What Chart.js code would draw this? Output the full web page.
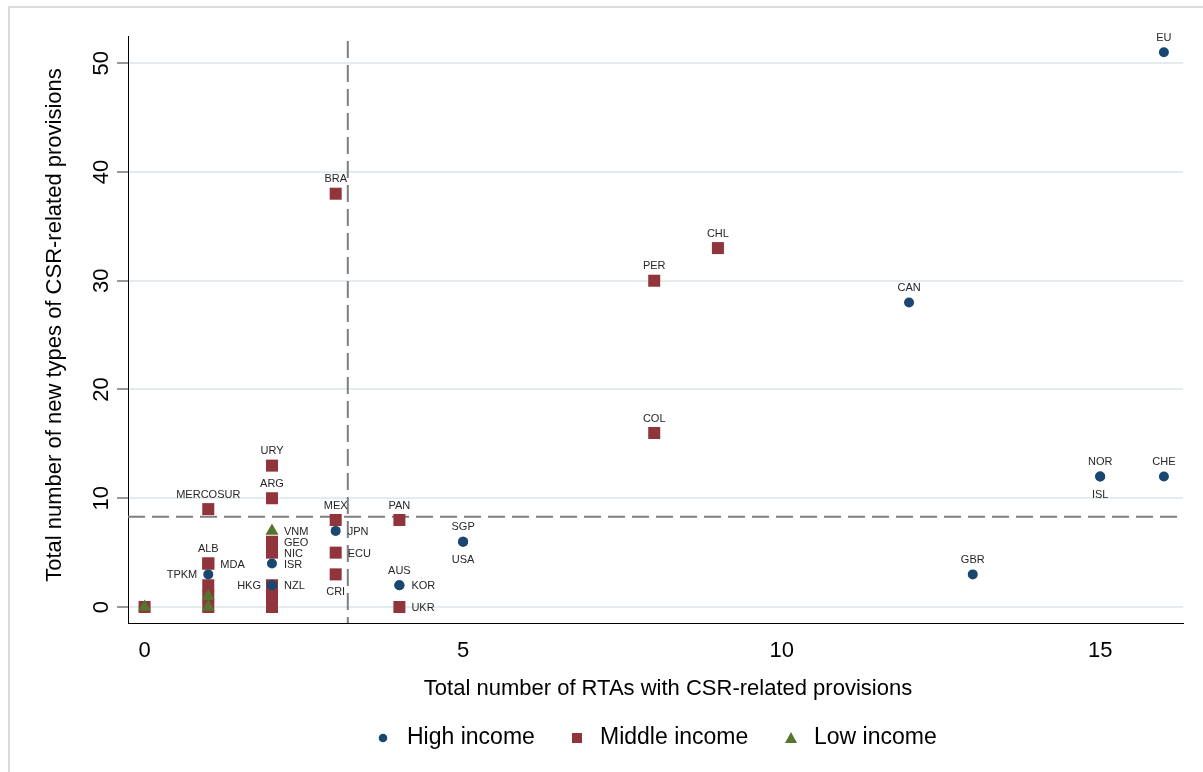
<!DOCTYPE html>
<html>
<head>
<meta charset="utf-8">
<script src="https://cdn.jsdelivr.net/npm/chart.js@4.4.0/dist/chart.umd.min.js"></script>
<style>
  html, body { margin: 0; padding: 0; background: #fff; }
</style>
</head>
<body>
<canvas id="csrChart" width="1203" height="772"></canvas>
<script>
// x ticks / y ticks
const xTicks = [0, 5, 10, 15];
const yTicks = [0, 10, 20, 30, 40, 50];

// High income
const highNames = ["EU", "CAN", "NOR", "ISL", "CHE", "GBR", "SGP", "USA", "AUS", "KOR", "JPN", "ISR", "HKG", "NZL", "TPKM"];
const highRtas  = [16, 12, 15, 15, 16, 13, 5, 5, 4, 4, 3, 2, 2, 2, 1];
const highTypes = [51, 28, 12, 12, 12, 3, 6, 6, 2, 2, 7, 4, 2, 2, 3];
const highLabelPos = [12, 12, 12, 6, 12, 12, 12, 6, 12, 3, 3, 3, 9, 3, 9];

// Middle income (unlabelled points have an empty name)
const midNames = ["BRA", "CHL", "PER", "COL", "URY", "ARG", "MERCOSUR", "MEX", "PAN", "GEO", "NIC", "ECU", "ALB", "MDA", "CRI", "UKR", "", "", "", "", "", "", ""];
const midRtas  = [3, 9, 8, 8, 2, 2, 1, 3, 4, 2, 2, 3, 1, 1, 3, 4, 2, 2, 2, 1, 1, 1, 0];
const midTypes = [38, 33, 30, 16, 13, 10, 9, 8, 8, 6, 5, 5, 4, 4, 3, 0, 2, 1, 0, 2, 1, 0, 0];
const midLabelPos = [12, 12, 12, 12, 12, 12, 12, 12, 12, 3, 3, 3, 12, 3, 6, 3, 0, 0, 0, 0, 0, 0, 0];

// Low income
const lowNames = ["VNM", "", "", ""];
const lowRtas  = [2, 1, 1, 0];
const lowTypes = [7, 1, 0, 0];
const lowLabelPos = [3, 0, 0, 0];

// dashed reference lines (averages)
const meanRtas = 3.19;
const meanTypes = 8.3;

const FONT = "'Liberation Sans', Arial, sans-serif";
const NAVY = "#1a476f";
const MAROON = "#90353b";
const GREEN = "#55752f";

function toPoints(xs, ys) {
  return xs.map((v, i) => ({ x: v, y: ys[i] }));
}

const labelSets = [
  [highNames, highLabelPos],
  [midNames, midLabelPos],
  [lowNames, lowLabelPos],
];

// white background and the light frame
const framePlugin = {
  id: "frame",
  beforeDraw(chart) {
    const ctx = chart.ctx;
    ctx.save();
    ctx.fillStyle = "#fff";
    ctx.fillRect(0, 0, chart.width, chart.height);
    ctx.strokeStyle = "#dcdcdc";
    ctx.lineWidth = 2;
    ctx.beginPath();
    ctx.moveTo(9, chart.height);
    ctx.lineTo(9, 7);
    ctx.lineTo(chart.width, 7);
    ctx.stroke();
    ctx.restore();
  }
};

const refLines = {
  id: "refLines",
  beforeDatasetsDraw(chart) {
    const { ctx, chartArea: a, scales: { x, y } } = chart;
    const px = x.getPixelForValue(meanRtas);
    const py = y.getPixelForValue(meanTypes);
    ctx.save();
    ctx.strokeStyle = "#7f7f7f";
    ctx.lineWidth = 2;
    ctx.setLineDash([17, 7]);
    ctx.beginPath();
    ctx.moveTo(px, a.top + 5);
    ctx.lineTo(px, a.bottom);
    ctx.stroke();
    ctx.beginPath();
    ctx.moveTo(a.left, py);
    ctx.lineTo(a.right, py);
    ctx.stroke();
    ctx.restore();
  }
};

const pointLabels = {
  id: "pointLabels",
  afterDatasetsDraw(chart) {
    const ctx = chart.ctx;
    ctx.save();
    ctx.font = "11px " + FONT;
    ctx.fillStyle = "#262626";
    labelSets.forEach(([names, positions], i) => {
      const meta = chart.getDatasetMeta(i);
      meta.data.forEach((pt, j) => {
        const name = names[j];
        if (!name) return;
        const pos = positions[j];
        let tx = pt.x, ty = pt.y;
        ctx.textBaseline = "middle";
        if (pos === 12) { ctx.textAlign = "center"; ty -= 14.5; }
        else if (pos === 6) { ctx.textAlign = "center"; ty += 18; }
        else if (pos === 3) { ctx.textAlign = "left"; tx += 12; ty += 1; }
        else { ctx.textAlign = "right"; tx -= 11; ty += 1; }
        ctx.fillText(name, tx, ty);
      });
    });
    ctx.restore();
  }
};

// rotated y tick labels, axis titles and the legend
const axisText = {
  id: "axisText",
  afterDraw(chart) {
    const { ctx, scales: { y } } = chart;
    ctx.save();
    ctx.fillStyle = "#000";

    ctx.font = "22px " + FONT;
    ctx.textAlign = "center";
    ctx.textBaseline = "alphabetic";
    yTicks.forEach(v => {
      const py = y.getPixelForValue(v);
      ctx.save();
      ctx.translate(108, py);
      ctx.rotate(-Math.PI / 2);
      ctx.fillText(String(v), 0, 0);
      ctx.restore();
    });

    ctx.save();
    ctx.translate(61, 325);
    ctx.rotate(-Math.PI / 2);
    ctx.fillText("Total number of new types of CSR-related provisions", 0, 0);
    ctx.restore();

    ctx.fillText("Total number of RTAs with CSR-related provisions", 668, 695);

    // legend
    const ly = 738;
    ctx.fillStyle = NAVY;
    ctx.beginPath();
    ctx.arc(383, ly, 4.3, 0, Math.PI * 2);
    ctx.fill();
    ctx.fillStyle = MAROON;
    ctx.fillRect(572, ly - 5, 10, 10);
    ctx.fillStyle = GREEN;
    ctx.beginPath();
    ctx.moveTo(791, ly - 6);
    ctx.lineTo(797, ly + 5);
    ctx.lineTo(785, ly + 5);
    ctx.closePath();
    ctx.fill();

    ctx.fillStyle = "#000";
    ctx.font = "23px " + FONT;
    ctx.textAlign = "left";
    ctx.textBaseline = "middle";
    ctx.fillText("High income", 407, ly);
    ctx.fillText("Middle income", 600, ly);
    ctx.fillText("Low income", 814, ly);
    ctx.restore();
  }
};

const ctx = document.getElementById("csrChart").getContext("2d");
const csrChart = new Chart(ctx, {
  type: "scatter",
  data: {
    datasets: [
      {
        label: "High income",
        data: toPoints(highRtas, highTypes),
        pointStyle: "circle",
        pointRadius: 5,
        pointHoverRadius: 5,
        backgroundColor: NAVY,
        borderColor: NAVY,
        borderWidth: 0,
        order: 1,
      },
      {
        label: "Middle income",
        data: toPoints(midRtas, midTypes),
        pointStyle: "rect",
        pointRadius: 8.5,
        pointHoverRadius: 8.5,
        backgroundColor: MAROON,
        borderColor: MAROON,
        borderWidth: 0,
        order: 2,
      },
      {
        label: "Low income",
        data: toPoints(lowRtas, lowTypes),
        pointStyle: "triangle",
        pointRadius: 7.5,
        pointHoverRadius: 7.5,
        backgroundColor: GREEN,
        borderColor: GREEN,
        borderWidth: 0,
        order: 0,
      },
    ],
  },
  options: {
    responsive: false,
    animation: false,
    events: [],
    layout: { padding: { top: 36, right: 20, bottom: 0, left: 0 } },
    plugins: {
      legend: { display: false },
      tooltip: { enabled: false },
    },
    scales: {
      x: {
        type: "linear",
        min: -0.26,
        max: 16.3,
        afterBuildTicks: scale => { scale.ticks = xTicks.map(v => ({ value: v })); },
        afterFit: scale => { scale.height = 149; },
        grid: { display: false },
        border: { display: true, color: "#000", width: 1 },
        ticks: { font: { size: 22, family: FONT }, color: "#000", padding: 7, maxRotation: 0 },
      },
      y: {
        type: "linear",
        min: -1.47,
        max: 52.5,
        afterBuildTicks: scale => { scale.ticks = yTicks.map(v => ({ value: v })); },
        afterFit: scale => { scale.width = 128; },
        grid: { color: "#e3edf0", lineWidth: 2, tickLength: 11, tickColor: "#333", tickWidth: 1 },
        border: { display: true, color: "#000", width: 1 },
        ticks: { display: false },
      },
    },
  },
  plugins: [framePlugin, refLines, pointLabels, axisText],
});
</script>
</body>
</html>
